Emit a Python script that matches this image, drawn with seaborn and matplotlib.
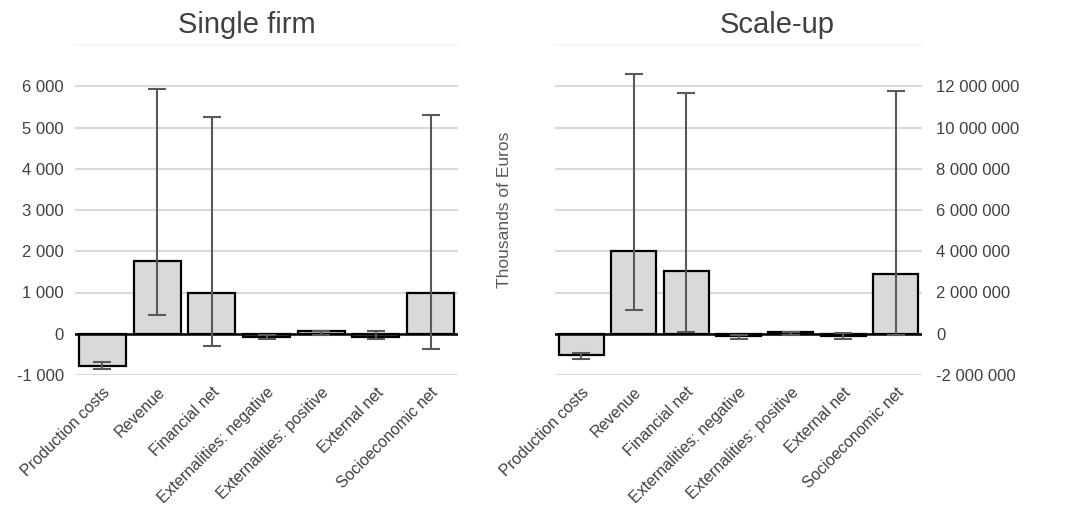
import numpy as np
import pandas as pd
import matplotlib
matplotlib.use("Agg")
import matplotlib.pyplot as plt
import seaborn as sns
from matplotlib.ticker import FuncFormatter

# data (thousands of euros)
categories = ["Production costs", "Revenue", "Financial net",
              "Externalities: negative", "Externalities: positive",
              "External net", "Socioeconomic net"]

single_mean = [-770, 1760, 990, -70, 55, -70, 990]
single_low = [-850, 460, -300, -120, -40, -130, -360]
single_high = [-690, 5930, 5250, -30, 60, 60, 5300]

scale_mean = [-1050000, 3990000, 3040000, -130000, 80000, -130000, 2910000]
scale_low = [-1220000, 1150000, 80000, -250000, -60000, -250000, -80000]
scale_high = [-920000, 12600000, 11680000, -50000, 100000, 60000, 11780000]

single_ticks = [-1000, 0, 1000, 2000, 3000, 4000, 5000, 6000]
scale_ticks = [-2000000, 0, 2000000, 4000000, 6000000, 8000000, 10000000, 12000000]

sns.set_style("white")
plt.rcParams['font.family'] = ['Liberation Sans', 'DejaVu Sans']

fig = plt.figure(figsize=(10.83, 5.13), dpi=100)
ax1 = fig.add_axes([75 / 1083, 1 - 375 / 513, 383 / 1083, 330 / 513])
ax2 = fig.add_axes([555 / 1083, 1 - 375 / 513, 367 / 1083, 330 / 513])

text_col = "#404040"
grid_col = "#d9d9d9"


def thousands(v, pos):
    return f"{int(round(v)):,}".replace(",", " ")


def draw_panel(ax, mean, low, high, ticks, ylim):
    df = pd.DataFrame({"category": categories, "value": mean})
    sns.barplot(data=df, x="category", y="value", ax=ax, color="#d9d9d9",
                saturation=1, width=0.86, edgecolor="black", linewidth=1.6,
                errorbar=None, zorder=2)
    m = np.array(mean, dtype=float)
    yerr = [m - np.array(low), np.array(high) - m]
    ax.errorbar(np.arange(len(categories)), m, yerr=yerr, fmt="none",
                ecolor="#595959", elinewidth=1.5, capsize=6.5, capthick=1.5,
                zorder=3)
    ax.set_ylim(*ylim)
    ax.set_xlim(-0.5, len(categories) - 0.5)
    ax.set_yticks(ticks)
    ax.yaxis.set_major_formatter(FuncFormatter(thousands))
    ax.grid(axis="y", color=grid_col, linewidth=1.5, zorder=0)
    ax.set_axisbelow(True)
    ax.axhline(0, color="black", linewidth=1.8, zorder=2.5)
    for s in ["left", "right", "bottom"]:
        ax.spines[s].set_visible(False)
    ax.spines["top"].set_color("#f4f4f4")
    ax.spines["top"].set_linewidth(1.2)
    ax.set_xlabel("")
    ax.set_ylabel("")
    ax.tick_params(axis="both", length=0, labelsize=12, colors=text_col)
    ax.set_xticks(range(len(categories)))
    ax.set_xticklabels(categories, rotation=45, ha="right",
                       rotation_mode="anchor", fontsize=11.5, color=text_col)
    ax.tick_params(axis="x", pad=7)


draw_panel(ax1, single_mean, single_low, single_high, single_ticks, (-1000, 7000))
draw_panel(ax2, scale_mean, scale_low, scale_high, scale_ticks, (-2000000, 14000000))

ax1.tick_params(axis="y", pad=8)
ax2.yaxis.tick_right()
ax2.tick_params(axis="y", pad=10)
ax2.yaxis.set_label_position("left")
ax2.set_ylabel("Thousands of Euros", fontsize=12.5, color="#595959")
ax2.yaxis.set_label_coords(-43 / 367, 0.5)

fig.text(247 / 1083, 1 - 25 / 513, "Single firm", ha="center", va="center",
         fontsize=21, color=text_col)
fig.text(777 / 1083, 1 - 25 / 513, "Scale-up", ha="center", va="center",
         fontsize=21, color=text_col)

plt.savefig("out.png", dpi=100)
